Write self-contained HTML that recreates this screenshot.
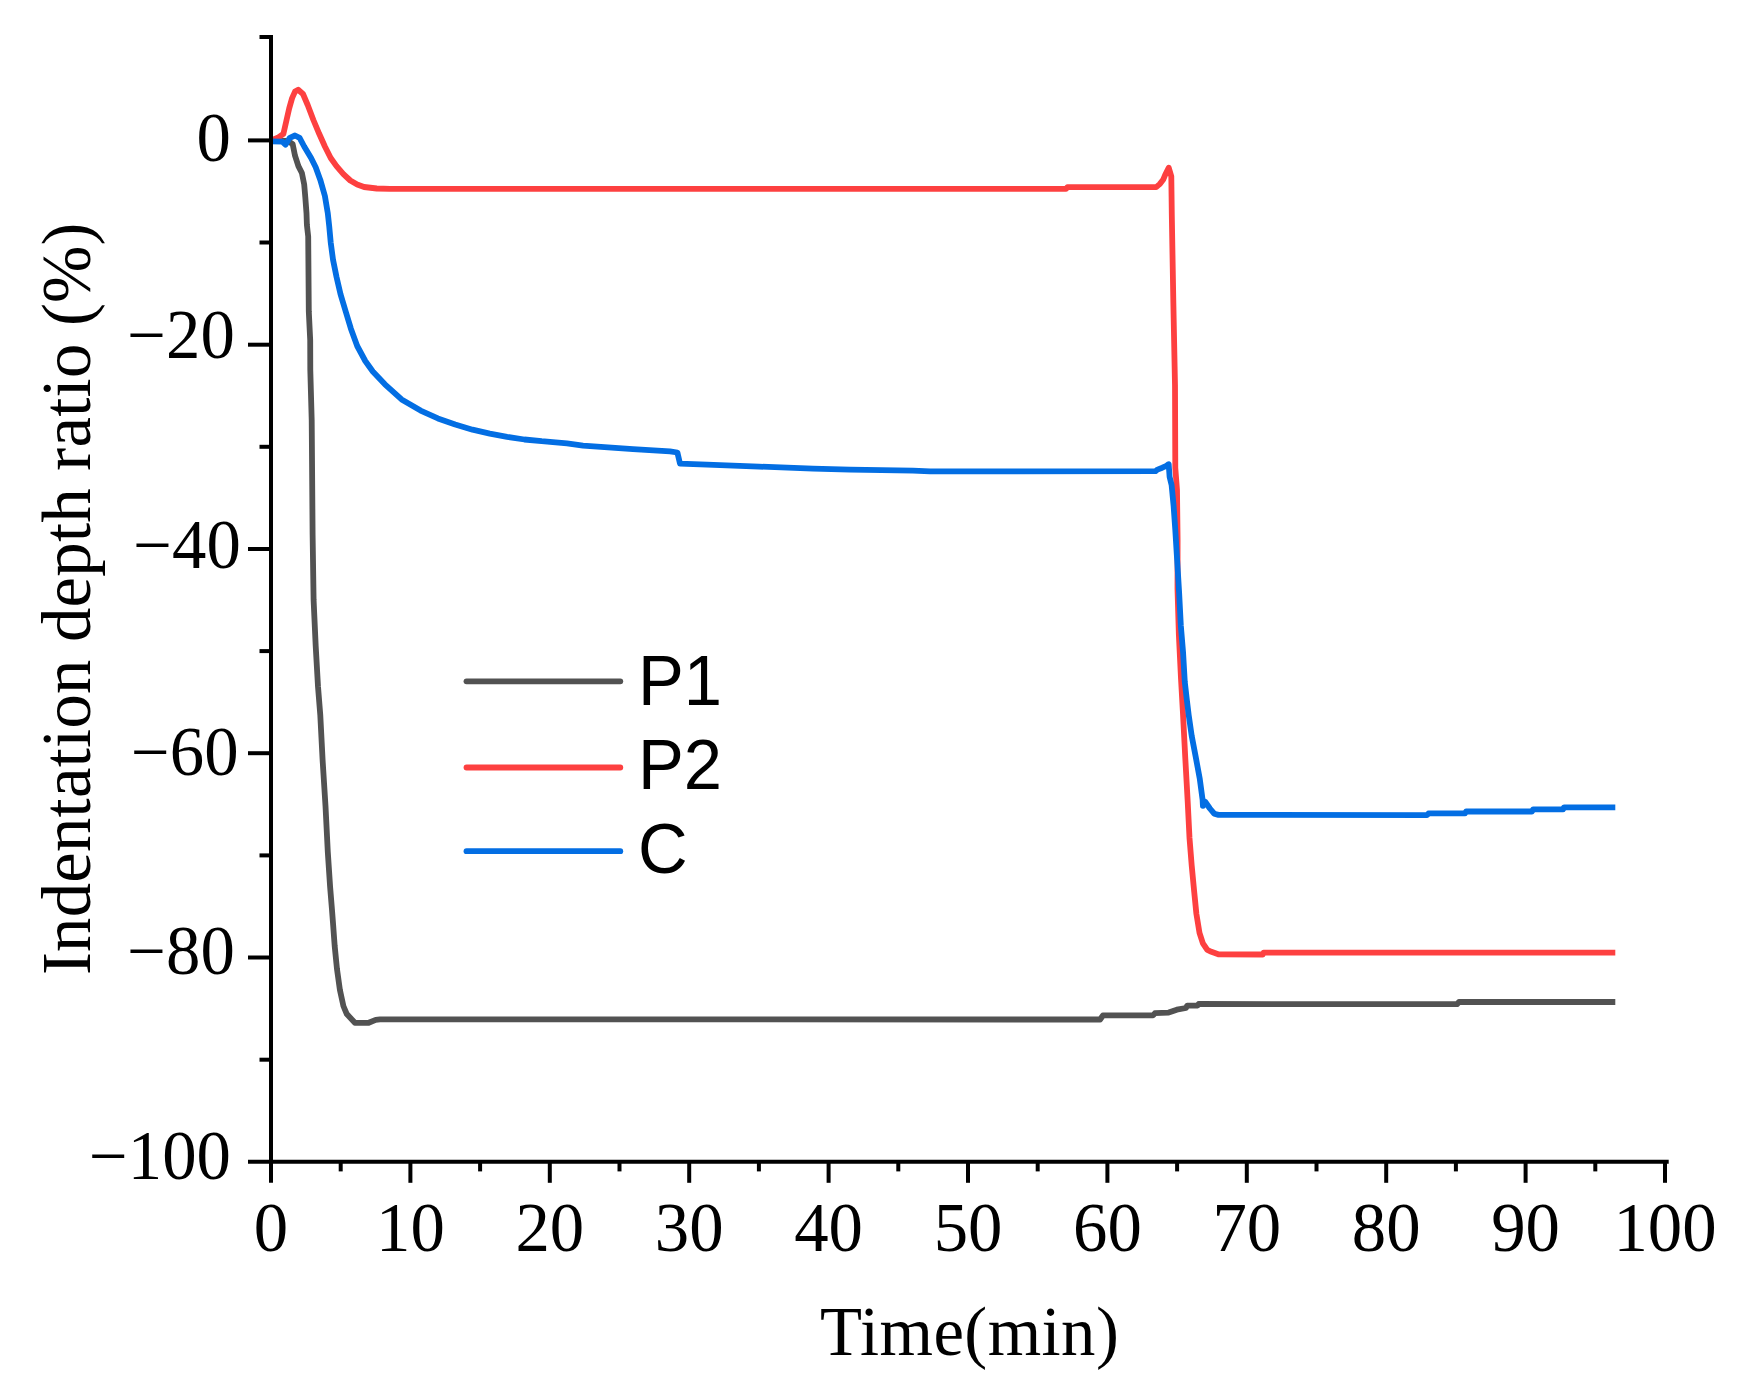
<!DOCTYPE html>
<html lang="en"><head><meta charset="utf-8"><title>Indentation depth ratio vs time</title>
<style>html,body{margin:0;padding:0;background:#fff}svg{display:block}.s{font-family:"Liberation Serif","Times New Roman",serif;font-size:68.75px;fill:#000}.a{font-family:"Liberation Sans",Arial,sans-serif;font-size:68.75px;fill:#000}</style></head><body>
<svg width="1742" height="1388" viewBox="0 0 1742 1388">
<rect width="1742" height="1388" fill="#fff"/>
<g fill="none" stroke-width="5.8" stroke-linejoin="round" stroke-linecap="butt">
<polyline stroke="#525252" points="271.0,140.6 288.0,141.0 292.7,144.2 295.0,155.7 298.4,166.1 301.9,173.0 304.2,184.5 305.3,197.2 306.5,213.3 306.9,225.0 308.2,236.5 308.8,311.5 310.2,340.0 310.3,370.0 311.7,420.0 312.6,534.0 313.6,600.0 315.7,646.0 318.0,686.5 320.3,715.3 322.6,760.0 325.5,806.0 327.8,852.0 330.1,886.8 332.0,910.0 333.0,923.0 334.7,946.1 337.0,969.2 339.9,989.9 343.4,1006.0 346.8,1014.1 354.9,1022.8 368.7,1022.8 375.7,1019.9 380.0,1019.4 1100.1,1019.5 1103.0,1015.3 1153.2,1015.3 1154.9,1013.2 1168.7,1012.6 1176.8,1009.7 1186.0,1008.0 1187.2,1005.7 1197.6,1005.5 1198.7,1004.0 1457.0,1004.2 1459.0,1002.0 1615.3,1002.0"/>
<polyline stroke="#fd4040" points="271.0,140.4 277.7,137.8 283.4,133.8 286.3,121.1 289.2,108.4 292.1,98.1 295.0,91.6 298.2,89.8 303.0,94.0 307.7,105.0 313.4,120.0 319.2,133.8 324.9,146.5 330.7,158.0 336.5,166.1 343.4,174.1 350.3,180.5 357.2,184.5 364.1,187.0 376.8,188.5 390.0,188.9 1066.0,188.9 1067.5,187.1 1156.2,187.1 1159.7,184.1 1163.1,179.8 1165.7,173.7 1168.7,167.7 1171.3,176.3 1171.8,215.0 1173.3,300.0 1175.0,385.0 1175.3,468.0 1177.0,490.0 1177.6,540.0 1177.5,589.0 1178.9,635.5 1181.0,678.7 1182.9,712.0 1185.3,758.4 1187.7,801.6 1189.5,837.9 1191.7,865.5 1194.0,889.7 1196.4,913.9 1199.5,932.9 1202.9,943.3 1207.3,949.9 1211.4,951.8 1218.3,954.3 1262.8,954.5 1263.5,952.7 1615.3,952.7"/>
<polyline stroke="#036ee3" points="271.0,141.3 282.3,141.6 285.5,144.7 289.8,137.8 295.0,135.5 299.6,137.8 304.2,146.5 311.1,158.0 315.7,167.2 320.3,179.9 324.9,196.0 327.8,213.3 329.2,226.0 330.7,242.3 333.0,259.6 336.5,276.9 340.5,294.2 345.7,311.5 350.9,328.7 357.2,346.0 365.3,361.0 372.8,371.5 384.9,384.3 401.6,399.4 420.6,410.6 437.9,418.4 455.2,424.5 472.5,429.7 489.8,433.6 507.1,436.9 524.4,439.5 541.7,441.2 550.0,441.8 567.0,443.3 583.0,445.6 608.0,447.3 633.0,449.2 670.0,451.4 677.4,452.5 680.0,463.7 707.0,464.7 759.0,466.6 813.0,468.6 850.0,469.7 913.0,470.6 930.0,471.4 1155.5,471.2 1157.5,469.6 1162.3,467.7 1166.4,465.9 1168.7,464.2 1169.6,476.9 1171.6,485.0 1173.6,505.9 1175.3,530.1 1177.0,557.8 1179.1,592.3 1180.8,625.2 1183.1,652.8 1184.8,682.2 1187.0,701.2 1188.7,715.0 1191.7,735.9 1196.0,758.4 1199.8,779.1 1202.6,799.9 1202.9,805.9 1205.0,801.5 1209.9,808.5 1214.2,813.7 1218.5,814.9 1427.2,815.1 1428.5,813.4 1465.0,813.4 1466.0,811.5 1532.0,811.5 1533.0,809.4 1563.0,809.4 1564.0,807.3 1615.3,807.3"/>
<line x1="466.5" x2="620.3" y1="681.3" y2="681.3" stroke="#525252" stroke-linecap="round"/>
<line x1="466.5" x2="620.3" y1="767.5" y2="767.5" stroke="#fd4040" stroke-linecap="round"/>
<line x1="466.5" x2="620.3" y1="851.2" y2="851.2" stroke="#036ee3" stroke-linecap="round"/>
</g>
<g stroke="#000" stroke-width="4" fill="none" stroke-linecap="butt">
<line x1="271" x2="271" y1="35" y2="1182.8"/>
<line x1="248" x2="1668.7" y1="1161.8" y2="1161.8"/>
<line x1="259.5" x2="271" y1="37.0" y2="37.0"/>
<line x1="248" x2="271" y1="140.4" y2="140.4"/>
<line x1="259.5" x2="271" y1="242.5" y2="242.5"/>
<line x1="248" x2="271" y1="344.7" y2="344.7"/>
<line x1="259.5" x2="271" y1="446.8" y2="446.8"/>
<line x1="248" x2="271" y1="549.0" y2="549.0"/>
<line x1="259.5" x2="271" y1="651.1" y2="651.1"/>
<line x1="248" x2="271" y1="753.2" y2="753.2"/>
<line x1="259.5" x2="271" y1="855.4" y2="855.4"/>
<line x1="248" x2="271" y1="957.5" y2="957.5"/>
<line x1="259.5" x2="271" y1="1059.7" y2="1059.7"/>
<line x1="340.7" x2="340.7" y1="1161.8" y2="1171.4"/>
<line x1="410.4" x2="410.4" y1="1161.8" y2="1182.8"/>
<line x1="480.1" x2="480.1" y1="1161.8" y2="1171.4"/>
<line x1="549.8" x2="549.8" y1="1161.8" y2="1182.8"/>
<line x1="619.5" x2="619.5" y1="1161.8" y2="1171.4"/>
<line x1="689.2" x2="689.2" y1="1161.8" y2="1182.8"/>
<line x1="758.9" x2="758.9" y1="1161.8" y2="1171.4"/>
<line x1="828.6" x2="828.6" y1="1161.8" y2="1182.8"/>
<line x1="898.3" x2="898.3" y1="1161.8" y2="1171.4"/>
<line x1="968.0" x2="968.0" y1="1161.8" y2="1182.8"/>
<line x1="1037.7" x2="1037.7" y1="1161.8" y2="1171.4"/>
<line x1="1107.4" x2="1107.4" y1="1161.8" y2="1182.8"/>
<line x1="1177.1" x2="1177.1" y1="1161.8" y2="1171.4"/>
<line x1="1246.8" x2="1246.8" y1="1161.8" y2="1182.8"/>
<line x1="1316.5" x2="1316.5" y1="1161.8" y2="1171.4"/>
<line x1="1386.2" x2="1386.2" y1="1161.8" y2="1182.8"/>
<line x1="1455.9" x2="1455.9" y1="1161.8" y2="1171.4"/>
<line x1="1525.6" x2="1525.6" y1="1161.8" y2="1182.8"/>
<line x1="1595.3" x2="1595.3" y1="1161.8" y2="1171.4"/>
<line x1="1665.0" x2="1665.0" y1="1161.8" y2="1182.8"/>
</g>
<g class="s" text-anchor="middle">
<text x="271.0" y="1251">0</text>
<text x="410.4" y="1251">10</text>
<text x="549.8" y="1251">20</text>
<text x="689.2" y="1251">30</text>
<text x="828.6" y="1251">40</text>
<text x="968.0" y="1251">50</text>
<text x="1107.4" y="1251">60</text>
<text x="1246.8" y="1251">70</text>
<text x="1386.2" y="1251">80</text>
<text x="1525.6" y="1251">90</text>
<text x="1665.0" y="1251">100</text>
<text x="969.4" y="1354.6" textLength="298.8" lengthAdjust="spacing">Time(min)</text>
</g>
<g class="s" text-anchor="end">
<text x="230.8" y="160.6">0</text>
<text x="234.8" y="357.8">−20</text>
<text x="240.8" y="567.8">−40</text>
<text x="238.6" y="775.3">−60</text>
<text x="234.8" y="974">−80</text>
<text x="230.9" y="1178.6">−100</text>
</g>
<text class="s" text-anchor="middle" transform="translate(90.3,598.8) rotate(-90)" textLength="752.6" lengthAdjust="spacing">Indentation depth ratio (%)</text>
<g class="a">
<text transform="translate(638,705.1) scale(1,1.025)">P1</text>
<text transform="translate(638,789.1) scale(1,1.025)">P2</text>
<text transform="translate(638,872.8) scale(1,1.025)">C</text>
</g>
</svg></body></html>
